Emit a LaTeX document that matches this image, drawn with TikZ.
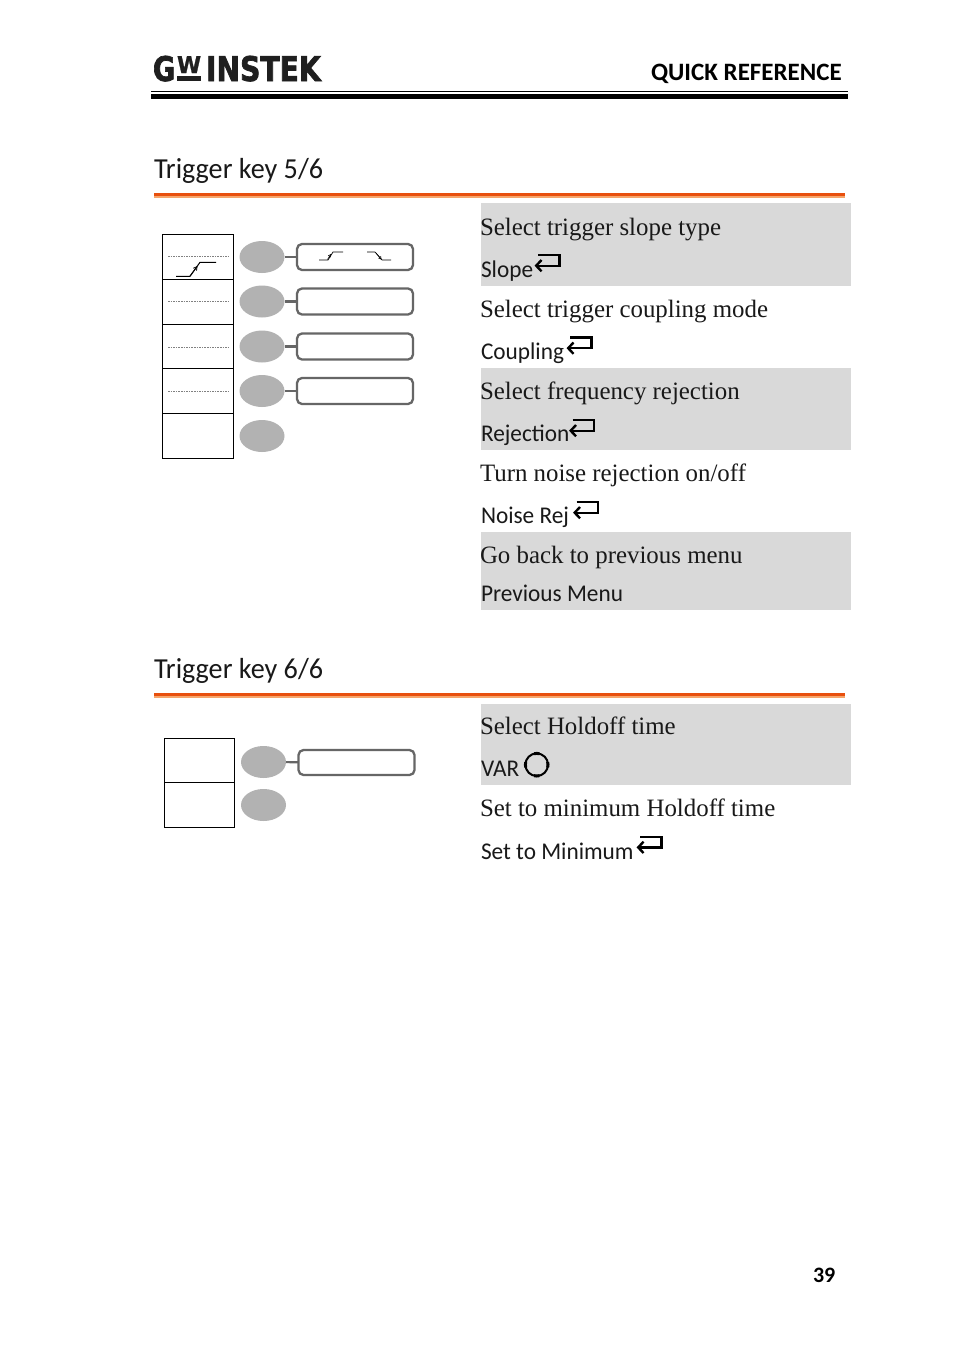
\documentclass[tikz,border=0pt]{standalone}
\usepackage{fontspec}
\usetikzlibrary{shapes.geometric,arrows.meta}
\setmainfont{Liberation Serif}
\newfontfamily\sansf{Carlito}
\newfontfamily\labf[FakeStretch=0.97]{Carlito}
\newfontfamily\headf[FakeStretch=0.97]{Carlito}
\newfontfamily\serf[FakeStretch=0.995]{Liberation Serif}
\newfontfamily\logof[FakeStretch=0.83,FakeBold=2]{DejaVu Sans Bold}
\newfontfamily\logog[FakeStretch=0.8,FakeBold=2]{DejaVu Sans Bold}
\newfontfamily\logow[FakeStretch=0.95,FakeBold=1]{DejaVu Sans Bold}
\definecolor{panel}{HTML}{D9D9D9}
\definecolor{knob}{HTML}{B2B2B2}
\definecolor{edge}{HTML}{666666}
\definecolor{rule1}{HTML}{E8500E}
\definecolor{rule2}{HTML}{F6A56B}
\tikzset{
 x=1pt,y=-1pt,
 txt/.style={anchor=base west,inner sep=0,outer sep=0},
 desc/.style={txt,font=\serf\fontsize{25}{28}\selectfont,text=black!90},
 lab/.style={txt,font=\labf\fontsize{24}{28}\selectfont,text=black!90},
 head/.style={txt,font=\headf\fontsize{29}{32}\selectfont,text=black!90},
 cell/.style={draw=black,line width=1.3pt,rectangle,inner sep=0,outer sep=0,minimum width=71pt},
 softkey/.style={ellipse,fill=knob,inner sep=0,outer sep=0,minimum width=45pt,minimum height=32pt},
 menubox/.style={draw=edge,line width=2.3pt,rectangle,rounded corners=5pt,fill=white,inner sep=0,outer sep=0,minimum width=116pt,minimum height=26pt},
 link/.style={draw=edge,line width=2.2pt},
 enter/.style={line width=2.4pt,black,line join=miter},
 dotl/.style={draw=black!50,line width=.9pt,dash pattern=on 1.6pt off 1pt},
}
\newcommand{\enterkey}[2]{%
 \draw[enter,shift={(#1,#2)}] (538,255) -- (559.3,255) -- (559.3,265.7) -- (537,265.7);
 \draw[enter,shift={(#1,#2)}] (541.5,260) -- (536.2,265.7) -- (541.5,271.3);}
\begin{document}
\begin{tikzpicture}
\useasboundingbox (0,0) rectangle (954,1349);
\fill[white] (0,0) rectangle (954,1349);
% header
\node[txt,font=\logog\fontsize{34}{34}\selectfont,text=black!88] (logoG) at (153,81) {G};
\node[txt,font=\logow\fontsize{23}{23}\selectfont,text=black!88] (logoW) at (177,73) {W};
\fill[black!88] (177,76) rectangle (201,81);
\node[txt,font=\logof\fontsize{34}{34}\selectfont,text=black!88] (logoI) at (206,81) {INSTEK};
\node[txt,font=\sansf\bfseries\fontsize{25}{28}\selectfont] (qr) at (651,80.5) {QUICK REFERENCE};
\fill (151,91) rectangle (848,92);
\fill (151,94) rectangle (848,99);
% section 1
\node[head] (h1) at (154,178) {Trigger key 5/6};
\fill[rule1] (154,193) rectangle (845,196);
\fill[rule2] (154,196) rectangle (845,197.5);
\foreach \n/\a/\b in {c1/234.5/279.5,c2/279.5/324.5,c3/324.5/368.5,c4/368.5/413.5,c5/413.5/458.5}
  \node[cell,minimum height=\b pt-\a pt] (\n) at (198,{(\a+\b)/2}) {};
\draw[dotl] (168,256.3) -- (228,256.3);
\draw[dotl] (168,301.5) -- (228,301.5);
\draw[dotl,line width=1.6pt] (168,347.5) -- (228,347.5);
\draw[dotl] (168,391.5) -- (228,391.5);
\draw[line width=1pt] (176,276.3) -- (190,276.3) -- (200,262.3) -- (216,262.3);
\draw[line width=.8pt,-{Straight Barb[length=3.5pt,width=4pt]}] (190,276) -- (197.5,266);
\foreach \n/\y in {k1/257,k2/301.5,k3/346.5,k4/391,k5/436}
  \node[softkey] (\n) at (262,\y) {};
\foreach \n/\k/\y in {b1/k1/257,b2/k2/301.5,b3/k3/346.5,b4/k4/391}{
  \node[menubox] (\n) at (355,\y) {};
  \draw[link] (\k) -- (\n);}
\draw[line width=.7pt] (319,260) -- (328,260) -- (333,252) -- (343,252);
\draw[line width=.7pt] (367,252) -- (375,252) -- (382,260) -- (391,260);
\draw[line width=.6pt,-{Straight Barb[length=2.5pt,width=3pt]}] (327.5,259.5) -- (331,254);
\draw[line width=.6pt,-{Straight Barb[length=2.5pt,width=3pt]}] (376,253) -- (381.5,259.5);
% panels
\fill[panel] (481,203) rectangle (851,286);
\fill[panel] (481,368) rectangle (851,450);
\fill[panel] (481,532) rectangle (851,610);
\fill[panel] (481,704) rectangle (851,785);
\node[desc] (d1) at (480,235) {Select trigger slope type};
\node[lab] (l1) at (481,277.5) {Slope};
\enterkey{0}{0}
\node[desc] (d2) at (480,317) {Select trigger coupling mode};
\node[lab] (l2) at (481,359.5) {Coupling};
\enterkey{32}{82.5}
\node[desc] (d3) at (480,399) {Select frequency rejection};
\node[lab] (l3) at (481,441.5) {Rejection};
\enterkey{34.5}{165}
\node[desc] (d4) at (480,481) {Turn noise rejection on/off};
\node[lab] (l4) at (481,523.5) {Noise Rej};
\enterkey{38.5}{247}
\node[desc] (d5) at (480,563) {Go back to previous menu};
\node[lab] (l5) at (481,601.5) {Previous Menu};
% section 2
\node[head] (h2) at (154,678) {Trigger key 6/6};
\fill[rule1] (154,693) rectangle (845,696);
\fill[rule2] (154,696) rectangle (845,697.5);
\foreach \n/\a/\b in {e1/738.5/782.5,e2/782.5/827.5}
  \node[cell,minimum width=70pt,minimum height=\b pt-\a pt] (\n) at (199.5,{(\a+\b)/2}) {};
\node[softkey] (m1) at (263.5,762) {};
\node[softkey] (m2) at (263.5,805) {};
\node[menubox,minimum height=25pt] (n1) at (356.5,762.5) {};
\draw[link] (m1) -- (n1);
\node[desc] (d6) at (480,734) {Select Holdoff time};
\node[lab] (l6) at (481,776.5) {VAR};
\draw[line width=2pt] (536.7,764.7) circle (11.3pt);
\foreach \a in {0,90,180,270}
  \draw[line width=3pt] (536.7,764.7) ++(\a-14:11.3pt) arc (\a-14:\a+14:11.3pt);
\node[desc] (d7) at (480,816) {Set to minimum Holdoff time};
\node[lab] (l7) at (481,859.5) {Set to Minimum};
\enterkey{102}{581.7}
\node[txt,font=\sansf\bfseries\fontsize{22}{26}\selectfont] (pg) at (813,1282) {39};
\end{tikzpicture}
\end{document}
